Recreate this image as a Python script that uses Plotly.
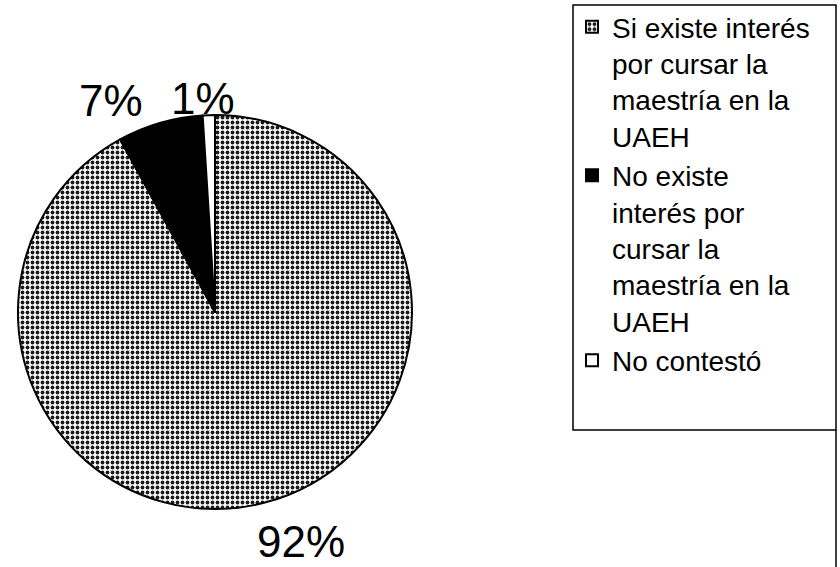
import plotly.graph_objects as go

labels = [
    "Si existe interés<br>por cursar la<br>maestría en la<br>UAEH",
    "No existe<br>interés por<br>cursar la<br>maestría en la<br>UAEH",
    "No contestó",
]
values = [92, 7, 1]
pct_labels = ["92%", "7%", "1%"]
colors = ["#bcbcbc", "#000000", "#ffffff"]
patterns = [".", "", ""]

W, H = 840, 567
cx, cy, R = 215, 312, 197

fig = go.Figure()
fig.add_trace(go.Pie(
    labels=labels,
    values=values,
    sort=False,
    direction="clockwise",
    rotation=0,
    textinfo="none",
    hoverinfo="label+percent",
    marker=dict(
        colors=colors,
        line=dict(color="black", width=2),
        pattern=dict(shape=patterns, fgcolor="#1a1a1a", size=5, solidity=0.45),
    ),
    domain=dict(x=[(cx - R) / W, (cx + R) / W],
                y=[(H - cy - R) / H, (H - cy + R) / H]),
    showlegend=True,
))

# percentage labels positioned outside the pie (layout positions)
label_pos = {"92%": (301, 541), "7%": (111, 100), "1%": (203, 98)}
for t in pct_labels:
    px, py = label_pos[t]
    fig.add_annotation(x=px / W, y=1 - py / H, xref="paper", yref="paper",
                       xanchor="center", yanchor="middle",
                       text=t, showarrow=False,
                       font=dict(family="Liberation Sans, Arial", size=44, color="black"))

# legend frame
fig.add_shape(type="rect", xref="paper", yref="paper",
              x0=573 / W, x1=836 / W, y0=1 - 430 / H, y1=1 - 5 / H,
              line=dict(color="black", width=1.5), fillcolor="rgba(0,0,0,0)")
fig.add_shape(type="line", xref="paper", yref="paper",
              x0=836 / W, x1=836 / W, y0=0, y1=1 - 430 / H,
              line=dict(color="black", width=1.5))

fig.update_layout(
    width=W, height=H,
    margin=dict(l=0, r=0, t=0, b=0),
    paper_bgcolor="white",
    plot_bgcolor="white",
    font=dict(family="Liberation Sans, Arial", color="black"),
    legend=dict(
        x=572 / W, y=1 - 2 / H, xanchor="left", yanchor="top",
        font=dict(size=28, family="Liberation Sans, Arial", color="black"),
        bgcolor="rgba(0,0,0,0)", borderwidth=0,
        tracegroupgap=0, itemsizing="constant", valign="top",
    ),
)

fig.write_html("out.html", config={"displayModeBar": False},
               post_script="document.body.style.margin='0';")
